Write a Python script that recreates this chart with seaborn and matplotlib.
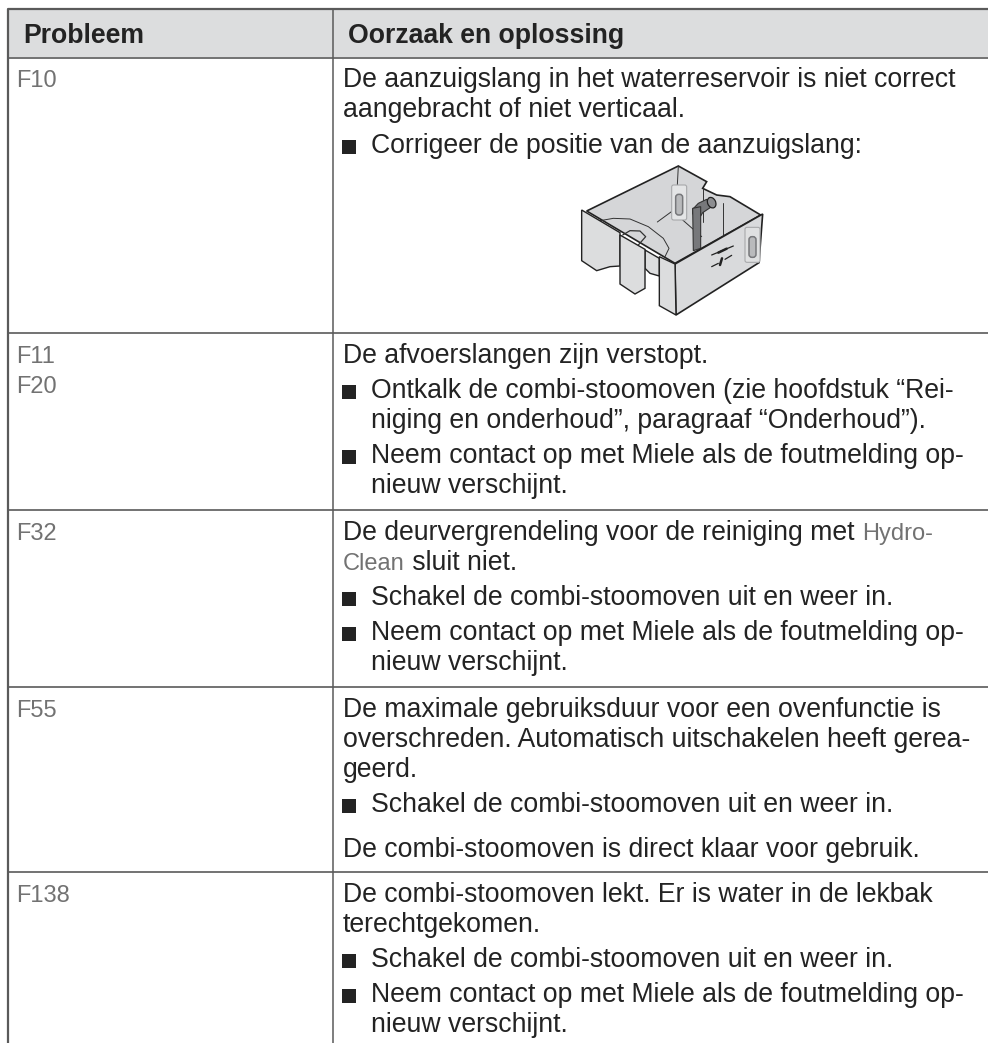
import matplotlib
matplotlib.use('Agg')
import matplotlib.pyplot as plt
from matplotlib.patches import Ellipse, FancyBboxPatch
import seaborn as sns

sns.set_theme(style='white')
plt.rcParams['font.family'] = ['Liberation Sans', 'DejaVu Sans']

# table text. '#' starts a bullet, ' ' continues one, {..} is the display font
headers = ['Probleem', 'Oorzaak en oplossing']
codes = [['F10'], ['F11', 'F20'], ['F32'], ['F55'], ['F138']]
causes = [
    ['De aanzuigslang in het waterreservoir is niet correct', 'aangebracht of niet verticaal.',
     '#Corrigeer de positie van de aanzuigslang:'],
    ['De afvoerslangen zijn verstopt.', '#Ontkalk de combi-stoomoven (zie hoofdstuk “Rei-',
     ' niging en onderhoud”, paragraaf “Onderhoud”).', '#Neem contact op met Miele als de foutmelding op-',
     ' nieuw verschijnt.'],
    ['De deurvergrendeling voor de reiniging met {Hydro-}', '{Clean} sluit niet.',
     '#Schakel de combi-stoomoven uit en weer in.', '#Neem contact op met Miele als de foutmelding op-',
     ' nieuw verschijnt.'],
    ['De maximale gebruiksduur voor een ovenfunctie is', 'overschreden. Automatisch uitschakelen heeft gerea-',
     'geerd.', '#Schakel de combi-stoomoven uit en weer in.', 'De combi-stoomoven is direct klaar voor gebruik.'],
    ['De combi-stoomoven lekt. Er is water in de lekbak', 'terechtgekomen.',
     '#Schakel de combi-stoomoven uit en weer in.', '#Neem contact op met Miele als de foutmelding op-',
     ' nieuw verschijnt.'],
]

# layout in pixels, y is the text baseline
row_lines = [57.5, 333, 510, 687, 872]
line_y = [
    [87, 117, 153],
    [363, 398, 428, 463, 493],
    [540, 570, 605, 640, 670],
    [717, 747, 777, 812, 857],
    [902, 932, 967, 1002, 1032],
]
code_y = [[87], [363, 393], [540], [717], [902]]
font_size = 19.2
code_size = 17

# reservoir outlines, measured on a 3x crop from (570, 140)
inner = [(50, 213), (325, 78), (410, 125), (398, 145), (440, 165), (480, 170), (572, 225), (315, 370)]
wall_left = [(35, 210), (150, 278), (150, 378), (120, 380), (80, 392), (35, 362)]
leg_mid = [(150, 285), (225, 328), (225, 445), (195, 462), (150, 432)]
wall_mid = [(225, 330), (268, 355), (268, 408), (240, 400), (225, 385)]
leg_right = [(268, 350), (315, 372), (318, 525), (268, 497)]
wall_right = [(315, 372), (578, 222), (567, 368), (318, 525)]
hose = [(368, 205), (392, 200), (392, 325), (370, 332)]
elbow = [(368, 208), (385, 190), (410, 178), (425, 200), (398, 218), (392, 228), (368, 222)]
floor_lines = [[(262, 246), (318, 205)], [(338, 240), (395, 290)], [(398, 145), (398, 245)],
               [(458, 190), (458, 285)], [(325, 78), (322, 135)], [(85, 250), (85, 385)],
               [(195, 315), (198, 455)]]
arc_big = [(85, 243), (130, 235), (180, 237), (235, 260), (280, 295), (297, 325), (285, 350)]
arc_small = [(158, 285), (180, 272), (210, 273), (227, 290), (205, 315)]
marks = [[(425, 345), (490, 318)], [(425, 380), (445, 370)], [(465, 358), (485, 346)]]
blobs = [[(445, 338), (470, 326)], [(450, 375), (456, 355)]]
window_back = (305, 135, 45, 105)
window_right = (525, 262, 45, 105)


def to_px(points):
    return [570 + x / 3 for x, y in points], [140 + y / 3 for x, y in points]


def draw_window(ax, box, face, z):
    bx, by, bw, bh = box
    px, py = to_px([(bx, by)])
    ax.add_patch(FancyBboxPatch((px[0], py[0]), bw / 3, bh / 3, boxstyle='round,pad=0,rounding_size=2',
                                facecolor=face, edgecolor='#a8a9ab', lw=0.8, zorder=z))
    px, py = to_px([(bx + 12, by + 28)])
    ax.add_patch(FancyBboxPatch((px[0], py[0]), 21 / 3, 62 / 3, boxstyle='round,pad=0,rounding_size=3',
                                facecolor='#b9babc', edgecolor='#77787b', lw=1.1, zorder=z + 0.1))


def draw_line(ax, x, y, line):
    # line may mix body text and the thin display font
    r = ax.figure.canvas.get_renderer()
    rest = line
    while rest:
        if rest.startswith('{'):
            part, rest = rest[1:].split('}', 1)
            t = ax.text(x, y, part, fontsize=code_size, color=code_c, va='baseline')
        else:
            part, _, tail = rest.partition('{')
            rest = '{' + tail if tail else ''
            t = ax.text(x, y, part, fontsize=font_size, color=text_c, va='baseline')
        x = ax.transData.inverted().transform(t.get_window_extent(r).corners())[:, 0].max() + 0.5


fig, ax = plt.subplots(figsize=(9.88, 10.43), dpi=100)
fig.subplots_adjust(0, 0, 1, 1)
ax.set_xlim(0, 988)
ax.set_ylim(1043, 0)
ax.axis('off')

line_c = '#5a5a5a'
text_c = '#232323'
code_c = '#727272'
ax.fill_between([8, 988], 9, 57, color='#dcddde', lw=0)
ax.plot([988, 7.5, 7.5], [9, 9, 1043], color=line_c, lw=1.6)
ax.plot([332.5, 332.5], [9, 1043], color=line_c, lw=1.1)
ax.hlines(row_lines, 8, 988, color=line_c, lw=1.2)

ax.text(23, 43, headers[0], fontsize=font_size, weight='bold', color=text_c, va='baseline')
ax.text(348, 43, headers[1], fontsize=font_size, weight='bold', color=text_c, va='baseline')

for labels, ys in zip(codes, code_y):
    for label, y in zip(labels, ys):
        ax.text(16.5, y, label, fontsize=code_size, color=code_c, va='baseline')

for lines, ys in zip(causes, line_y):
    for line, y in zip(lines, ys):
        x = 342.5
        if line.startswith('#'):
            ax.scatter([349], [y - 6.5], marker='s', s=96, color='#232323', lw=0)
            line = line[1:]
            x = 371
        elif line.startswith(' '):
            line = line[1:]
            x = 371
        draw_line(ax, x, y, line)

# reservoir illustration
edge = '#222222'
ax.fill(*to_px(inner), facecolor='#d5d6d8', edgecolor=edge, lw=1.2, zorder=3)
for seg in floor_lines:
    ax.plot(*to_px(seg), color='#333333', lw=0.7, zorder=3.1)
ax.plot(*to_px(arc_big), color='#333333', lw=0.7, zorder=3.1)
ax.plot(*to_px(arc_small), color='#333333', lw=0.9, zorder=3.1)
draw_window(ax, window_back, '#e4e5e6', 3.2)
ax.fill(*to_px(elbow), facecolor='#77787b', edgecolor='#333333', lw=0.8, zorder=3.4)
px, py = to_px([(425, 188)])
ax.add_patch(Ellipse((px[0], py[0]), 8, 11, angle=-25, facecolor='#8c8d90', edgecolor='#222222', lw=0.9, zorder=3.45))
ax.fill(*to_px(hose), facecolor='#77787b', edgecolor='#333333', lw=0.8, zorder=3.5)
ax.fill(*to_px(wall_right), facecolor='#d9dadc', edgecolor=edge, lw=1.2, zorder=3.6)
for poly in [wall_left, wall_mid, leg_mid, leg_right]:
    ax.fill(*to_px(poly), facecolor='#dcddde', edgecolor=edge, lw=1.0, zorder=4)
draw_window(ax, window_right, '#dfe0e1', 4)
for seg in marks:
    ax.plot(*to_px(seg), color='#222222', lw=0.9, zorder=4.2)
for seg in blobs:
    ax.plot(*to_px(seg), color='#222222', lw=1.8, zorder=4.2)

fig.savefig('out.png', dpi=100)
